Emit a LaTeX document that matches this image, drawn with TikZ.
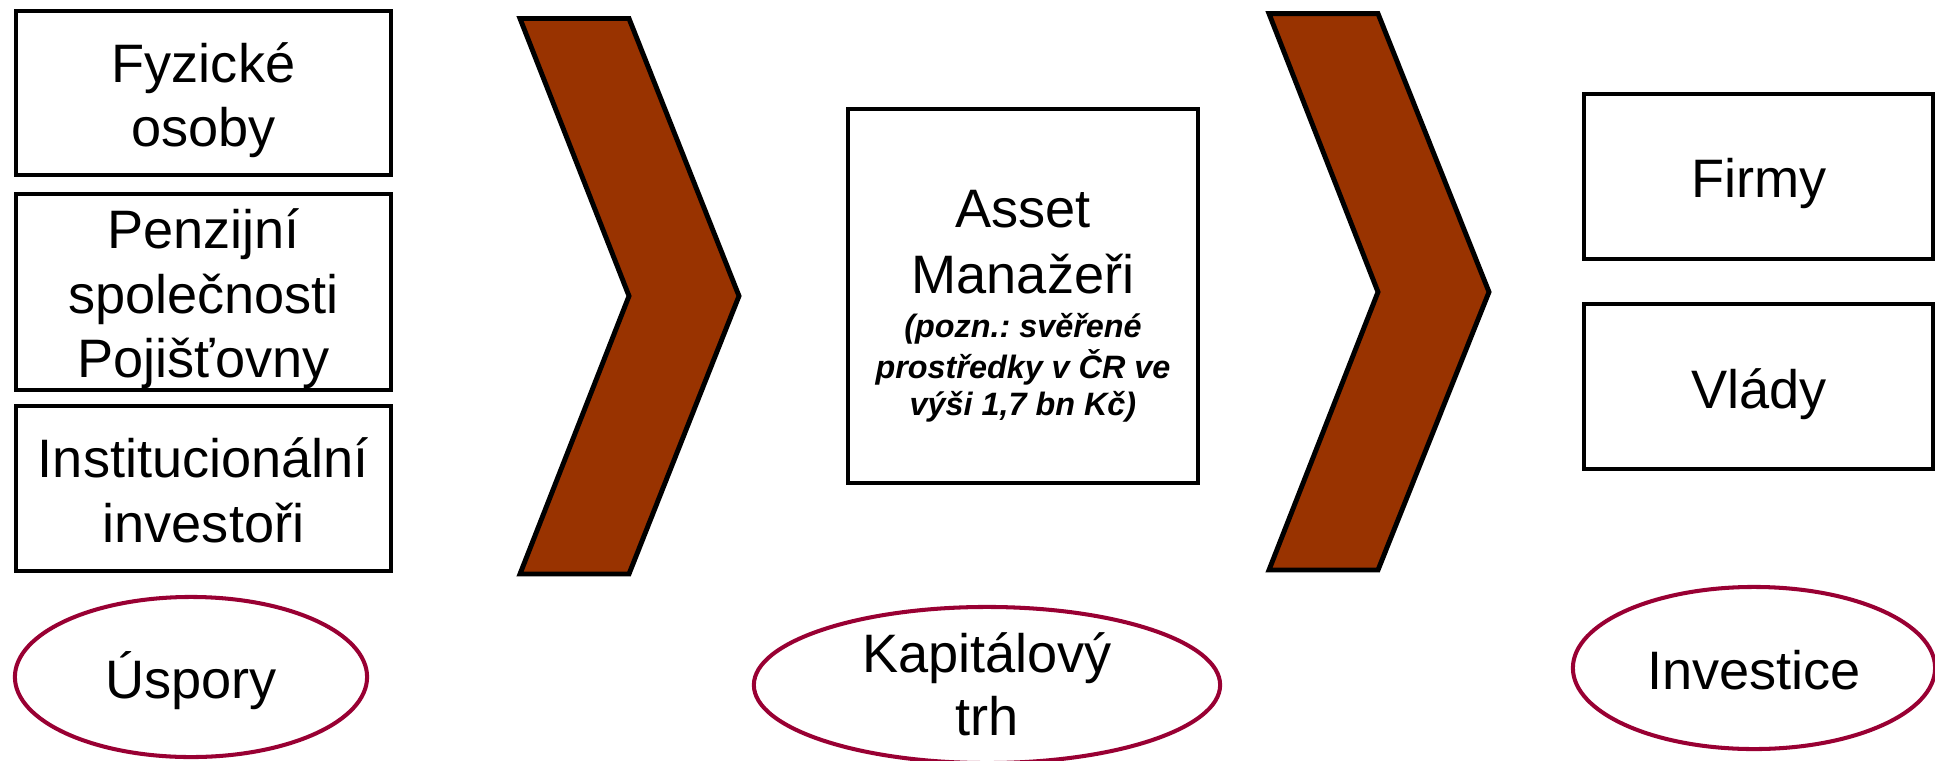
\documentclass[tikz,border=0pt]{standalone}
\usepackage{fontspec}
\setmainfont{Liberation Sans}
\usetikzlibrary{shapes.geometric}
\definecolor{chev}{HTML}{993300}
\definecolor{ell}{HTML}{990033}
\frenchspacing
\begin{document}
\begin{tikzpicture}[x=0.01cm,y=-0.01cm,
  box/.style={draw=black, line width=1.1pt, rectangle, inner sep=0pt},
  oval/.style={draw=ell, line width=1.15pt, ellipse, inner sep=0pt},
  chevron/.style={draw=black, fill=chev, line width=1.4pt, line join=miter},
  big/.style={font=\fontsize{15.4}{18.4}\selectfont, anchor=base, inner sep=0pt},
  note/.style={font=\fontsize{9.2}{11}\selectfont\bfseries\itshape\frenchspacing, anchor=base, inner sep=0pt}]
\useasboundingbox (0,0) rectangle (1935,760);
\clip (0,0) rectangle (1935,760);

% left column
\node[box, minimum width=3.75cm, minimum height=1.64cm] (fo) at (203.5,93) {};
\node[big] (fo1) at (203.5,82)  {Fyzické};
\node[big] (fo2) at (203.5,146) {osoby};
\node[box, minimum width=3.75cm, minimum height=1.96cm] (ps) at (203.5,292) {};
\node[big] (ps1) at (203.5,248) {Penzijní};
\node[big] (ps2) at (203.5,313) {společnosti};
\node[big] (ps3) at (203.5,377) {Pojišťovny};
\node[box, minimum width=3.75cm, minimum height=1.65cm] (ii) at (203.5,488.5) {};
\node[big] (ii1) at (203.5,477) {Institucionální};
\node[big] (ii2) at (203.5,542) {investoři};

% chevrons
\draw[chevron] (520,18.5) -- (629,18.5) -- (739,296) -- (629,574) -- (520,574) -- (629,296) -- cycle;
\draw[chevron] (1269,13.6) -- (1378,13.6) -- (1489,292) -- (1378,570) -- (1269,570) -- (1378,292) -- cycle;

% middle box
\node[box, minimum width=3.50cm, minimum height=3.74cm] (am) at (1023,296) {};
\node[big]  (am1) at (1023,227) {Asset};
\node[big]  (am2) at (1023,293) {Manažeři};
\node[note] (am3) at (1023,337) {(pozn.: svěřené};
\node[note] (am4) at (1023,378) {prostředky v ČR ve};
\node[note] (am5) at (1023,415) {výši 1,7 bn Kč)};

% right column
\node[box, minimum width=3.49cm, minimum height=1.65cm] (fi) at (1758.5,176.5) {};
\node[big] (fi1) at (1759,197) {Firmy};
\node[box, minimum width=3.49cm, minimum height=1.65cm] (vl) at (1758.5,386.5) {};
\node[big] (vl1) at (1759,408) {Vlády};

% ellipses
\node[oval, minimum width=3.52cm, minimum height=1.60cm] (us) at (191,677) {};
\node[big] (us1) at (191,698) {Úspory};
\node[oval, minimum width=4.66cm, minimum height=1.56cm] (kt) at (987,685) {};
\node[big] (kt1) at (987,672) {Kapitálový};
\node[big] (kt2) at (987,735) {trh};
\node[oval, minimum width=3.62cm, minimum height=1.62cm] (in) at (1754,668) {};
\node[big] (in1) at (1754,689) {Investice};
\end{tikzpicture}
\end{document}
